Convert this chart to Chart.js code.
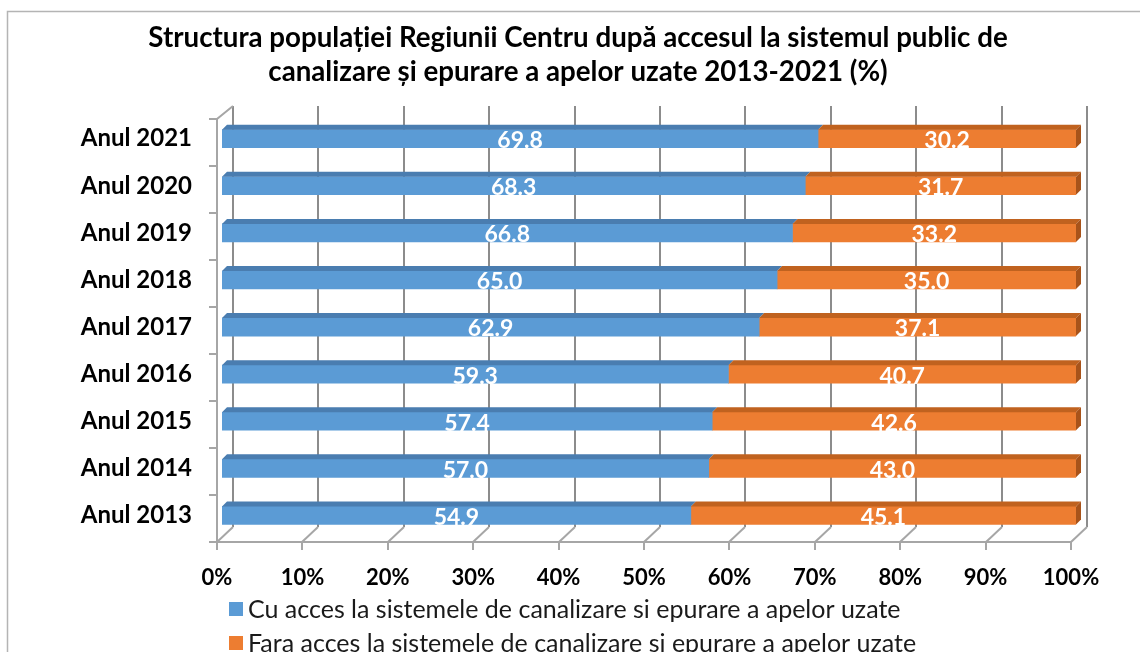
<!DOCTYPE html>
<html>
<head>
<meta charset="utf-8">
<script src="https://cdn.jsdelivr.net/npm/chart.js@4.4.1/dist/chart.umd.min.js"></script>
<style>
  html, body { margin: 0; padding: 0; background: #ffffff; }
  #wrap { width: 1140px; height: 652px; position: relative; }
</style>
</head>
<body>
<div id="wrap"><canvas id="c" width="1140" height="652"></canvas></div>
<script>
const categories = ['Anul 2013', 'Anul 2014', 'Anul 2015', 'Anul 2016', 'Anul 2017', 'Anul 2018', 'Anul 2019', 'Anul 2020', 'Anul 2021'];
const withAccess = [54.9, 57.0, 57.4, 59.3, 62.9, 65.0, 66.8, 68.3, 69.8];
const withoutAccess = [45.1, 43.0, 42.6, 40.7, 37.1, 35.0, 33.2, 31.7, 30.2];
const seriesNames = [
  'Cu acces la sistemele de canalizare si epurare a apelor uzate',
  'Fara acces la sistemele de canalizare si epurare a apelor uzate'
];
const xTickValues = [0, 10, 20, 30, 40, 50, 60, 70, 80, 90, 100];
const titleLines = [
  'Structura populației Regiunii Centru după accesul la sistemul public de',
  'canalizare și epurare a apelor uzate 2013-2021 (%)'
];

const FONT = 'Lato, "Open Sans", "DejaVu Sans", sans-serif';
const topColors = ['#4a7db0', '#c0621f'];
const sideColors = ['#3f6c99', '#a8531a'];
const DX = 5, DY = 5;

const decor = {
  id: 'decor',
  beforeDatasetsDraw(chart) {
    const ctx = chart.ctx;
    const xs = chart.scales.x;
    const backTop = 106, backBottom = 527, front = 542;
    ctx.save();
    ctx.lineWidth = 2;
    ctx.strokeStyle = '#8c8c8c';
    xTickValues.forEach(v => {
      const x = Math.round(xs.getPixelForValue(v)) + 11;
      ctx.beginPath();
      ctx.moveTo(x, backTop);
      ctx.lineTo(x, backBottom);
      ctx.stroke();
    });
    ctx.strokeStyle = '#a6a6a6';
    xTickValues.forEach(v => {
      const xf = Math.round(xs.getPixelForValue(v)) - 5;
      ctx.beginPath();
      ctx.moveTo(xf, front);
      ctx.lineTo(xf + 16, backBottom);
      ctx.stroke();
      ctx.beginPath();
      ctx.moveTo(xf, front);
      ctx.lineTo(xf, front + 8);
      ctx.stroke();
    });
    const x0 = Math.round(xs.getPixelForValue(0)) - 5;
    const x1 = Math.round(xs.getPixelForValue(100)) - 5;
    ctx.beginPath();
    ctx.moveTo(x0, front);
    ctx.lineTo(x1, front);
    ctx.stroke();
    ctx.beginPath();
    ctx.moveTo(x0, front);
    ctx.lineTo(x0, 119);
    ctx.lineTo(x0 + 16, backTop);
    ctx.stroke();
    const n = categories.length;
    const step = (front - 119) / n;
    for (let k = 0; k <= n; k++) {
      const y = Math.round(119 + k * step);
      ctx.beginPath();
      ctx.moveTo(x0 - 8, y);
      ctx.lineTo(x0, y);
      ctx.stroke();
    }
    ctx.restore();
  },
  afterDatasetsDraw(chart) {
    const ctx = chart.ctx;
    ctx.save();
    const nDs = chart.data.datasets.length;
    chart.data.datasets.forEach((ds, di) => {
      const meta = chart.getDatasetMeta(di);
      meta.data.forEach((bar) => {
        const p = bar.getProps(['x', 'y', 'base', 'height'], true);
        const left = Math.min(p.x, p.base), right = Math.max(p.x, p.base);
        const yt = p.y - p.height / 2, yb = p.y + p.height / 2;
        ctx.fillStyle = topColors[di];
        ctx.beginPath();
        ctx.moveTo(left, yt);
        ctx.lineTo(right, yt);
        ctx.lineTo(right + DX, yt - DY);
        ctx.lineTo(left + DX, yt - DY);
        ctx.closePath();
        ctx.fill();
        if (di === nDs - 1) {
          ctx.fillStyle = sideColors[di];
          ctx.beginPath();
          ctx.moveTo(right, yt);
          ctx.lineTo(right + DX, yt - DY);
          ctx.lineTo(right + DX, yb - DY);
          ctx.lineTo(right, yb);
          ctx.closePath();
          ctx.fill();
        }
      });
    });
    ctx.fillStyle = '#ffffff';
    ctx.font = 'bold 23px ' + FONT;
    ctx.textAlign = 'center';
    ctx.textBaseline = 'middle';
    chart.data.datasets.forEach((ds, di) => {
      const meta = chart.getDatasetMeta(di);
      meta.data.forEach((bar, i) => {
        const p = bar.getProps(['x', 'y', 'base'], true);
        ctx.fillText(ds.data[i].toFixed(1), (p.x + p.base) / 2, p.y + 2);
      });
    });
    ctx.restore();
  },
  afterDraw(chart) {
    const ctx = chart.ctx;
    ctx.save();
    ctx.strokeStyle = '#b4b4b4';
    ctx.lineWidth = 1.5;
    ctx.beginPath();
    ctx.moveTo(7.5, 652);
    ctx.lineTo(7.5, 11.5);
    ctx.lineTo(1140, 11.5);
    ctx.stroke();
    ctx.font = '25px ' + FONT;
    ctx.textAlign = 'left';
    ctx.textBaseline = 'middle';
    const ys = [609, 643];
    chart.data.datasets.forEach((ds, di) => {
      ctx.fillStyle = ds.backgroundColor;
      ctx.fillRect(229, ys[di] - 7, 14, 14);
      ctx.fillStyle = '#1a1a1a';
      ctx.fillText(ds.label, 248, ys[di] + 1);
    });
    ctx.restore();
  }
};

new Chart(document.getElementById('c'), {
  type: 'bar',
  data: {
    labels: categories,
    datasets: [
      { label: seriesNames[0], data: withAccess, backgroundColor: '#5b9bd5', barThickness: 18, borderWidth: 0 },
      { label: seriesNames[1], data: withoutAccess, backgroundColor: '#ed7d31', barThickness: 18, borderWidth: 0 }
    ]
  },
  options: {
    indexAxis: 'y',
    responsive: false,
    animation: false,
    devicePixelRatio: 1,
    layout: { padding: { left: 80, right: 64, top: 0, bottom: 53 } },
    plugins: {
      legend: { display: false },
      tooltip: { enabled: false },
      title: {
        display: true,
        text: titleLines,
        color: '#000000',
        font: { family: FONT, size: 27.7, weight: 'bold', lineHeight: 1.23 },
        padding: { top: 21, bottom: 26 }
      }
    },
    scales: {
      x: {
        stacked: true,
        min: 0, max: 100,
        grid: { display: false, drawTicks: false },
        border: { display: false },
        ticks: {
          stepSize: 10,
          padding: 26,
          labelOffset: -5,
          color: '#000000',
          font: { family: FONT, size: 22, weight: 'bold' },
          callback: v => v + '%'
        },
        afterFit: s => { s.height = 60; }
      },
      y: {
        stacked: true,
        reverse: true,
        grid: { display: false, drawTicks: false },
        border: { display: false },
        ticks: {
          padding: 30,
          color: '#000000',
          font: { family: FONT, size: 24, weight: 'bold' }
        },
        afterFit: s => { s.width = 142; }
      }
    }
  },
  plugins: [decor]
});
</script>
</body>
</html>
